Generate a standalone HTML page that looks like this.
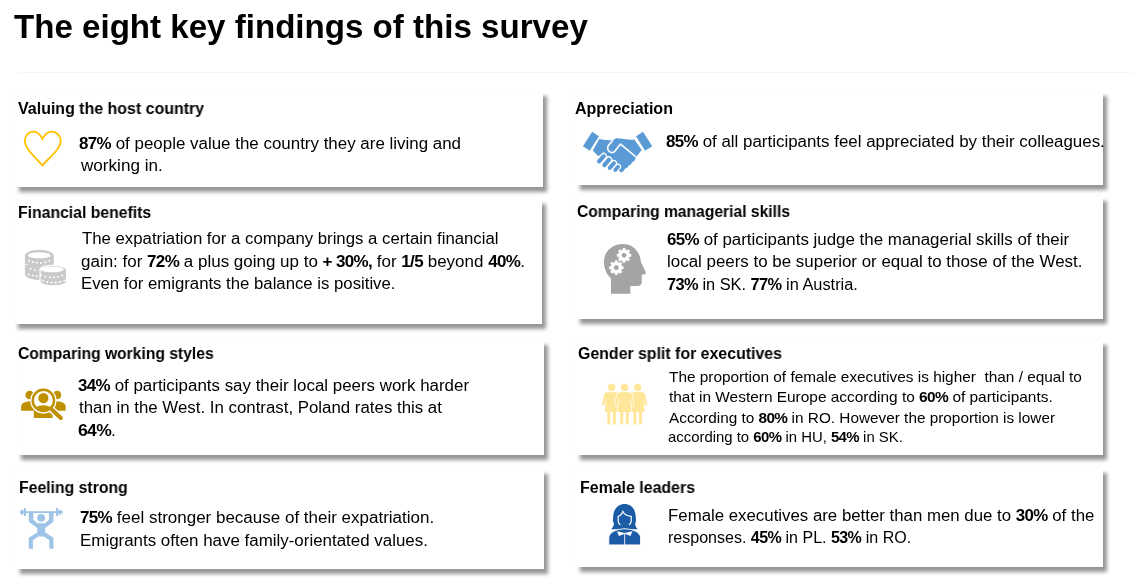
<!DOCTYPE html>
<html><head><meta charset="utf-8"><style>
html,body{margin:0;padding:0;background:#fff;}
body{width:1145px;height:583px;position:relative;overflow:hidden;font-family:"Liberation Sans",sans-serif;color:#000;}
.card{position:absolute;background:#fff;box-shadow:4px 4.5px 3.7px rgba(0,0,0,0.41), -1px -1.5px 1px rgba(0,0,0,0.025);}
.ln{position:absolute;white-space:nowrap;transform-origin:0 0;line-height:1;will-change:transform;-webkit-font-smoothing:antialiased;}
.title{font-weight:bold;}
.head{font-weight:bold;color:#000;}
.body{color:#000;}
.body b{font-weight:bold;letter-spacing:-0.6px;}
.ic{position:absolute;overflow:visible;}
</style></head><body>
<div style="position:absolute;left:19px;top:71.5px;width:1113px;height:1px;background:#f6f6f6"></div>
<div class="card" style="left:15.4px;top:90.9px;width:527.3px;height:96.2px"></div>
<div class="card" style="left:14.1px;top:199.0px;width:527.8px;height:125.2px"></div>
<div class="card" style="left:16.5px;top:340.0px;width:527.3px;height:115.2px"></div>
<div class="card" style="left:16.0px;top:469.0px;width:527.8px;height:100.1px"></div>
<div class="card" style="left:576.3px;top:90.7px;width:527.1px;height:94.6px"></div>
<div class="card" style="left:575.9px;top:196.1px;width:527.4px;height:123.2px"></div>
<div class="card" style="left:576.0px;top:340.0px;width:527.4px;height:115.1px"></div>
<div class="card" style="left:576.0px;top:468.0px;width:527.4px;height:98.9px"></div>
<div id="t" class="ln title" style="left:14.00px;top:10.36px;font-size:33.00px;transform:scaleX(1.0030);">The eight key findings of this survey</div>
<div id="h1" class="ln head" style="left:18.30px;top:101.05px;font-size:16.00px;transform:scaleX(0.9969);">Valuing the host country</div>
<div id="b1a" class="ln body" style="left:78.90px;top:135.75px;font-size:16.00px;transform:scaleX(1.0579);"><b>87%</b> of people value the country they are living and</div>
<div id="b1b" class="ln body" style="left:80.70px;top:158.45px;font-size:16.00px;transform:scaleX(1.0688);">working in.</div>
<div id="h2" class="ln head" style="left:575.20px;top:101.05px;font-size:16.00px;transform:scaleX(1.0013);">Appreciation</div>
<div id="b2a" class="ln body" style="left:666.30px;top:133.95px;font-size:16.00px;transform:scaleX(1.0565);"><b>85%</b> of all participants feel appreciated by their colleagues.</div>
<div id="h3" class="ln head" style="left:18.10px;top:204.55px;font-size:16.00px;transform:scaleX(0.9850);">Financial benefits</div>
<div id="b3a" class="ln body" style="left:81.50px;top:231.25px;font-size:16.00px;transform:scaleX(1.0477);">The expatriation for a company brings a certain financial</div>
<div id="b3b" class="ln body" style="left:80.50px;top:254.45px;font-size:16.00px;transform:scaleX(1.0608);">gain: for <b>72%</b> a plus going up to <b>+ 30%,</b> for <b>1/5</b> beyond <b>40%</b>.</div>
<div id="b3c" class="ln body" style="left:80.50px;top:276.05px;font-size:16.00px;transform:scaleX(1.0460);">Even for emigrants the balance is positive.</div>
<div id="h4" class="ln head" style="left:577.10px;top:203.95px;font-size:16.00px;transform:scaleX(0.9778);">Comparing managerial skills</div>
<div id="b4a" class="ln body" style="left:667.10px;top:232.45px;font-size:16.00px;transform:scaleX(1.0564);"><b>65%</b> of participants judge the managerial skills of their</div>
<div id="b4b" class="ln body" style="left:667.10px;top:254.35px;font-size:16.00px;transform:scaleX(1.0575);">local peers to be superior or equal to those of the West.</div>
<div id="b4c" class="ln body" style="left:667.10px;top:276.55px;font-size:16.00px;transform:scaleX(1.0220);"><b>73%</b> in SK. <b>77%</b> in Austria.</div>
<div id="h5" class="ln head" style="left:18.10px;top:346.05px;font-size:16.00px;transform:scaleX(0.9778);">Comparing working styles</div>
<div id="b5a" class="ln body" style="left:78.20px;top:378.35px;font-size:16.00px;transform:scaleX(1.0570);"><b>34%</b> of participants say their local peers work harder</div>
<div id="b5b" class="ln body" style="left:79.20px;top:400.35px;font-size:16.00px;transform:scaleX(1.0526);">than in the West. In contrast, Poland rates this at</div>
<div id="b5c" class="ln body" style="left:78.20px;top:422.55px;font-size:16.00px;transform:scaleX(1.0939);"><b>64%</b>.</div>
<div id="h6" class="ln head" style="left:578.20px;top:346.05px;font-size:16.00px;transform:scaleX(0.9927);">Gender split for executives</div>
<div id="b6a" class="ln body" style="left:668.50px;top:370.27px;font-size:14.50px;transform:scaleX(1.0606);">The proportion of female executives is higher&nbsp; than / equal to</div>
<div id="b6b" class="ln body" style="left:668.50px;top:390.22px;font-size:14.50px;transform:scaleX(1.0639);">that in Western Europe according to <b>60%</b> of participants.</div>
<div id="b6c" class="ln body" style="left:668.50px;top:410.82px;font-size:14.50px;transform:scaleX(1.0578);">According to <b>80%</b> in RO. However the proportion is lower</div>
<div id="b6d" class="ln body" style="left:667.50px;top:430.22px;font-size:14.50px;transform:scaleX(1.0274);">according to <b>60%</b> in HU, <b>54%</b> in SK.</div>
<div id="h7" class="ln head" style="left:18.80px;top:480.35px;font-size:16.00px;transform:scaleX(0.9856);">Feeling strong</div>
<div id="b7a" class="ln body" style="left:80.00px;top:510.05px;font-size:16.00px;transform:scaleX(1.0618);"><b>75%</b> feel stronger because of their expatriation.</div>
<div id="b7b" class="ln body" style="left:80.00px;top:533.15px;font-size:16.00px;transform:scaleX(1.0573);">Emigrants often have family-orientated values.</div>
<div id="h8" class="ln head" style="left:579.80px;top:480.15px;font-size:16.00px;transform:scaleX(0.9949);">Female leaders</div>
<div id="b8a" class="ln body" style="left:668.00px;top:507.75px;font-size:16.00px;transform:scaleX(1.0512);">Female executives are better than men due to <b>30%</b> of the</div>
<div id="b8b" class="ln body" style="left:668.00px;top:530.35px;font-size:16.00px;transform:scaleX(1.0014);">responses. <b>45%</b> in PL. <b>53%</b> in RO.</div>
<!-- heart -->
<svg class="ic" style="left:18px;top:125px" width="50" height="47" viewBox="0 0 620 583">
<path d="M303,172 C275,118 240,82 195,82 C130,82 85,135 85,200 C85,290 200,390 303,500 C405,390 530,290 530,200 C530,135 480,82 415,82 C370,82 330,118 303,172 Z" fill="none" stroke="#ffc000" stroke-width="23" stroke-linejoin="miter"/>
</svg>
<!-- handshake -->
<svg class="ic" style="left:580px;top:128px" width="76" height="48" viewBox="0 0 923 583">
<g fill="#5b9bd5">
<polygon points="35,222 148,45 230,100 118,275"/>
<polygon points="680,100 765,45 878,222 790,275"/>
<path d="M155,272 L235,135 C300,150 350,150 395,150 L440,125 C520,130 600,150 660,140 L750,268 L685,345 C675,360 668,375 668,390 C660,405 645,415 630,418 C625,440 605,455 590,455 C585,478 565,492 548,492 C540,515 520,535 495,540 L440,480 L290,330 L215,338 Z"/>
</g>
<path d="M400,148 L345,212 C325,240 335,290 380,297 C400,300 415,290 425,280 L492,195 L680,352" fill="none" stroke="#fff" stroke-width="20" stroke-linecap="butt" stroke-linejoin="round"/>
<g stroke-linecap="round">
<line x1="288" y1="342" x2="232" y2="405" stroke="#fff" stroke-width="82"/>
<line x1="288" y1="342" x2="232" y2="405" stroke="#5b9bd5" stroke-width="52"/>
<line x1="352" y1="385" x2="296" y2="450" stroke="#fff" stroke-width="82"/>
<line x1="352" y1="385" x2="296" y2="450" stroke="#5b9bd5" stroke-width="52"/>
<line x1="412" y1="428" x2="362" y2="485" stroke="#fff" stroke-width="80"/>
<line x1="412" y1="428" x2="362" y2="485" stroke="#5b9bd5" stroke-width="50"/>
<line x1="462" y1="470" x2="428" y2="510" stroke="#fff" stroke-width="76"/>
<line x1="462" y1="470" x2="428" y2="510" stroke="#5b9bd5" stroke-width="46"/>
</g>
</svg>
<!-- coins -->
<svg class="ic" style="left:20px;top:244px" width="52" height="46" viewBox="0 0 659 583">
<path d="M62,150 A183,78 0 0 1 428,150 L428,380 A183,75 0 0 1 62,380 Z" fill="#c9c9c9"/>
<path d="M50,262 L95,262" stroke="#fff" stroke-width="10"/>
<path d="M254,325 A168,53 0 0 1 590,325 L590,475 A168,57 0 0 1 254,475 Z" fill="#c9c9c9" stroke="#fff" stroke-width="16"/>
<path d="M262,445 A168,50 0 0 0 585,445" fill="none" stroke="#fff" stroke-width="6" opacity="0.5"/>
<g fill="#fff">
<ellipse cx="244" cy="144" rx="146" ry="38"/>
<ellipse cx="408" cy="322" rx="148" ry="37"/>
<rect x="101" y="201" width="22" height="22"/><rect x="151" y="217" width="22" height="22"/><rect x="201" y="226" width="22" height="22"/><rect x="256" y="229" width="22" height="22"/><rect x="311" y="220" width="22" height="22"/><rect x="361" y="203" width="22" height="22"/><rect x="124" y="302" width="22" height="22"/><rect x="178" y="320" width="22" height="22"/><rect x="101" y="375" width="22" height="22"/><rect x="151" y="389" width="22" height="22"/><rect x="201" y="396" width="22" height="22"/><rect x="256" y="379" width="22" height="22"/><rect x="311" y="402" width="22" height="22"/><rect x="366" y="411" width="22" height="22"/><rect x="416" y="411" width="22" height="22"/><rect x="471" y="405" width="22" height="22"/><rect x="525" y="388" width="22" height="22"/><rect x="279" y="452" width="22" height="22"/><rect x="334" y="471" width="22" height="22"/><rect x="389" y="480" width="22" height="22"/><rect x="443" y="480" width="22" height="22"/><rect x="498" y="471" width="22" height="22"/><rect x="553" y="452" width="22" height="22"/>
</g>
</svg>
<!-- head with gears -->
<svg class="ic" style="left:598px;top:240px" width="52" height="58" viewBox="0 0 523 583">
<path d="M130,540 L130,385 C85,345 58,285 60,215 C62,110 150,40 250,40 C350,40 420,110 432,220 L478,320 C484,333 476,348 460,348 L440,350 L440,425 C440,450 422,462 398,462 L325,462 L325,540 Z" fill="#a6a4a3"/>
<g fill="#fff" stroke="#fff" stroke-width="8" stroke-linejoin="round">
<path d="M249.4,101.5 L251.7,84.8 L272.3,84.8 L274.6,101.5 A54,54 0 0 1 290.2,108.0 L303.6,97.7 L318.3,112.4 L308.0,125.8 A54,54 0 0 1 314.5,141.4 L331.2,143.7 L331.2,164.3 L314.5,166.6 A54,54 0 0 1 308.0,182.2 L318.3,195.6 L303.6,210.3 L290.2,200.0 A54,54 0 0 1 274.6,206.5 L272.3,223.2 L251.7,223.2 L249.4,206.5 A54,54 0 0 1 233.8,200.0 L220.4,210.3 L205.7,195.6 L216.0,182.2 A54,54 0 0 1 209.5,166.6 L192.8,164.3 L192.8,143.7 L209.5,141.4 A54,54 0 0 1 216.0,125.8 L205.7,112.4 L220.4,97.7 L233.8,108.0 A54,54 0 0 1 249.4,101.5 Z"/>
<path d="M171.4,225.5 L173.7,208.8 L194.3,208.8 L196.6,225.5 A54,54 0 0 1 212.2,232.0 L225.6,221.7 L240.3,236.4 L230.0,249.8 A54,54 0 0 1 236.5,265.4 L253.2,267.7 L253.2,288.3 L236.5,290.6 A54,54 0 0 1 230.0,306.2 L240.3,319.6 L225.6,334.3 L212.2,324.0 A54,54 0 0 1 196.6,330.5 L194.3,347.2 L173.7,347.2 L171.4,330.5 A54,54 0 0 1 155.8,324.0 L142.4,334.3 L127.7,319.6 L138.0,306.2 A54,54 0 0 1 131.5,290.6 L114.8,288.3 L114.8,267.7 L131.5,265.4 A54,54 0 0 1 138.0,249.8 L127.7,236.4 L142.4,221.7 L155.8,232.0 A54,54 0 0 1 171.4,225.5 Z"/>
</g>
<g fill="#a6a4a3">
<circle cx="262" cy="154" r="24"/>
<circle cx="184" cy="278" r="24"/>
</g>
</svg>
<!-- people search -->
<svg class="ic" style="left:18px;top:384px" width="52" height="40" viewBox="0 0 758 583">
<g fill="#bf9000">
<circle cx="170" cy="160" r="62"/>
<path d="M45,390 L45,330 C45,282 100,255 170,252 L250,252 L250,390 Z"/>
<circle cx="570" cy="160" r="62"/>
<path d="M695,390 L695,330 C695,282 640,255 570,252 L490,252 L490,390 Z"/>
<rect x="230" y="390" width="275" height="105"/>
</g>
<circle cx="370" cy="240" r="192" fill="#fff"/>
<line x1="490" y1="370" x2="628" y2="500" stroke="#fff" stroke-width="100" stroke-linecap="round"/>
<circle cx="370" cy="240" r="155" fill="none" stroke="#bf9000" stroke-width="36"/>
<line x1="500" y1="380" x2="625" y2="495" stroke="#bf9000" stroke-width="60" stroke-linecap="round"/>
<circle cx="370" cy="205" r="75" fill="#bf9000"/>
<clipPath id="cin"><circle cx="370" cy="240" r="150"/></clipPath>
<ellipse cx="370" cy="400" rx="150" ry="90" fill="#bf9000" clip-path="url(#cin)"/>
</svg>
<!-- three women -->
<svg class="ic" style="left:598px;top:380px" width="54" height="48" viewBox="0 0 656 583">
<defs>
<g id="wom">
<circle cx="0" cy="90" r="45"/>
<path d="M-50,148 L50,148 C72,148 86,158 92,178 L114,288 C118,306 98,320 90,306 L66,205 L85,390 L-85,390 L-66,205 L-90,306 C-98,320 -118,306 -114,288 L-92,178 C-86,158 -72,148 -50,148 Z"/>
<rect x="-52" y="385" width="36" height="155"/>
<rect x="16" y="385" width="36" height="155"/>
</g>
</defs>
<g fill="#ffe699">
<use href="#wom" x="165"/>
<use href="#wom" x="482"/>
</g>
<g stroke="#fff" stroke-width="16" fill="#fff"><use href="#wom" x="322"/></g>
<g fill="#ffe699"><use href="#wom" x="322"/></g>
</svg>
<!-- weightlifter -->
<svg class="ic" style="left:16px;top:504px" width="50" height="48" viewBox="0 0 607 583">
<g fill="#9dc3e6">
<rect x="45" y="88" width="525" height="22"/>
<rect x="95" y="50" width="26" height="97" rx="8"/>
<rect x="486" y="50" width="26" height="97" rx="8"/>
<rect x="58" y="70" width="30" height="60" rx="10"/>
<rect x="519" y="70" width="30" height="60" rx="10"/>
<path d="M155,100 L210,100 L210,190 L262,235 L350,235 L400,190 L400,100 L455,100 L455,215 L355,290 L355,345 L455,410 L455,545 L405,545 L405,440 L340,395 L270,395 L205,440 L205,545 L155,545 L155,410 L258,345 L258,290 L155,215 Z"/>
<circle cx="305" cy="168" r="48"/>
</g>
</svg>
<!-- female leader -->
<svg class="ic" style="left:600px;top:500px" width="50" height="50" viewBox="0 0 583 583">
<path d="M129,341 C150,325 162,300 162,272 C150,258 150,240 153,220 C150,110 205,46 287,46 C370,46 420,110 418,220 C421,240 421,258 410,272 C410,300 420,325 440,341 Z" fill="#1b5ca6"/>
<path d="M212,190 C235,185 255,165 267,134 C280,165 320,185 364,190 L364,240 C364,280 330,300 288,300 C246,300 212,280 212,240 Z" fill="#1b5ca6" stroke="#fff" stroke-width="14"/>
<rect x="238" y="282" width="100" height="60" fill="#1b5ca6"/>
<path d="M102,524 L102,440 C102,380 185,336 288,336 C390,336 474,380 474,440 L474,524 Z" fill="#1b5ca6" stroke="#fff" stroke-width="12"/>
<path d="M198,364 L288,386 L378,364 L355,419 L288,393 L221,419 Z" fill="#fff"/>
<rect x="283" y="392" width="10" height="140" fill="#fff"/>
<rect x="90" y="524" width="400" height="30" fill="#fff"/>
</svg>
</body></html>
